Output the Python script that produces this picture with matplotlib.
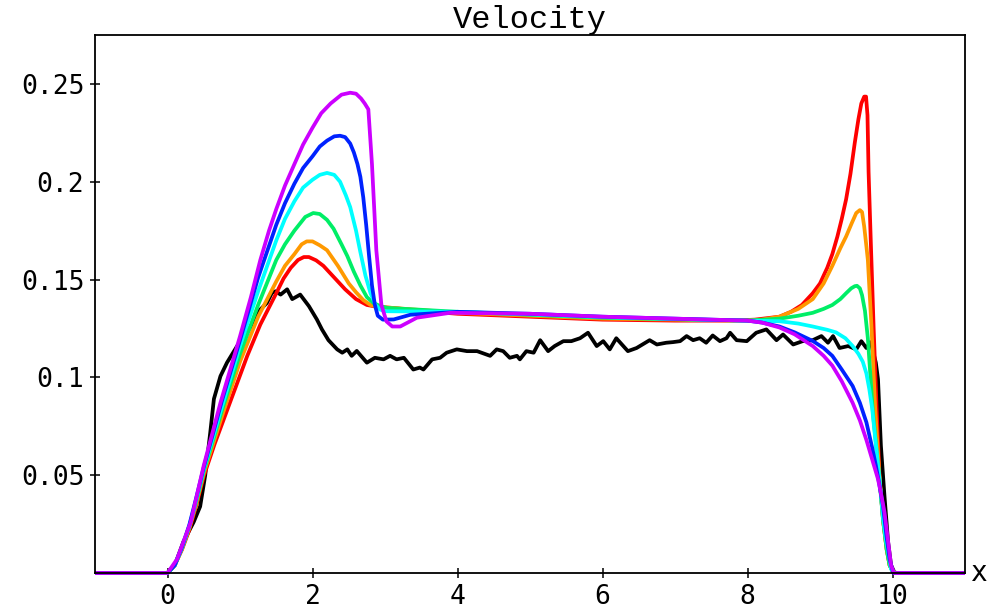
import matplotlib
matplotlib.use("Agg")
import matplotlib.pyplot as plt

# ---- data ----
X_TICKS = [0, 2, 4, 6, 8, 10]
X_TICK_LABELS = ["0", "2", "4", "6", "8", "10"]
Y_TICKS = [0.05, 0.10, 0.15, 0.20, 0.25]
Y_TICK_LABELS = ["0.05", "0.1", "0.15", "0.2", "0.25"]

black_x = [-1, 0, 0.1, 0.22, 0.36, 0.45, 0.52, 0.59, 0.64, 0.73, 0.82, 0.96, 1.1,
           1.28, 1.37, 1.44, 1.49, 1.56, 1.65, 1.72, 1.83, 1.95, 2.06, 2.13, 2.22,
           2.34, 2.41, 2.48, 2.54, 2.61, 2.75, 2.86, 2.98, 3.07, 3.16, 3.26, 3.39,
           3.48, 3.53, 3.65, 3.76, 3.85, 3.99, 4.13, 4.27, 4.45, 4.54, 4.63, 4.72,
           4.82, 4.86, 4.95, 5.05, 5.14, 5.25, 5.34, 5.46, 5.57, 5.69, 5.8, 5.92,
           6.01, 6.1, 6.19, 6.35, 6.47, 6.65, 6.75, 6.88, 6.97, 7.07, 7.16, 7.25,
           7.34, 7.43, 7.52, 7.62, 7.71, 7.76, 7.85, 7.99, 8.12, 8.26, 8.4, 8.49,
           8.63, 8.76, 8.9, 9.02, 9.11, 9.18, 9.27, 9.39, 9.5, 9.57, 9.64, 9.7,
           9.77, 9.8, 9.84, 9.89, 9.94, 9.98, 10.03, 11]
black_y = [0, 0, 0.004, 0.016, 0.026, 0.034, 0.05, 0.072, 0.089, 0.1006, 0.1075,
           0.116, 0.123, 0.1347, 0.138, 0.1432, 0.144, 0.1423, 0.145, 0.140, 0.1423,
           0.1364, 0.1296, 0.1245, 0.119, 0.1143, 0.1126, 0.1143, 0.111, 0.1135,
           0.1075, 0.110, 0.1092, 0.111, 0.1092, 0.110, 0.104, 0.105, 0.104, 0.1092,
           0.110, 0.1126, 0.1143, 0.1134, 0.1134, 0.111, 0.1143, 0.1134, 0.110,
           0.111, 0.1092, 0.1134, 0.1126, 0.119, 0.1134, 0.116, 0.1185, 0.1185,
           0.120, 0.1228, 0.116, 0.1185, 0.1143, 0.120, 0.1134, 0.115, 0.119,
           0.1168, 0.1177, 0.118, 0.1185, 0.1211, 0.119, 0.120, 0.1177, 0.1214,
           0.1185, 0.120, 0.1228, 0.119, 0.1185, 0.1228, 0.1245, 0.119, 0.1219,
           0.1168, 0.1185, 0.119, 0.1211, 0.1177, 0.1211, 0.115, 0.116, 0.1143,
           0.1185, 0.115, 0.118, 0.1075, 0.099, 0.065, 0.039, 0.0156, 0.004, 0, 0]

red_x = [-1, 0, 0.1, 0.2, 0.3, 0.4, 0.5, 0.65, 0.82, 1.0, 1.1, 1.28, 1.5, 1.6,
         1.7, 1.8, 1.88, 1.95, 2.05, 2.15, 2.3, 2.45, 2.6, 2.75, 2.9, 3.1, 3.5, 4,
         5, 6, 7, 7.8, 8.1, 8.44, 8.6, 8.75, 8.9, 9.0, 9.1, 9.17, 9.24, 9.3, 9.36,
         9.42, 9.48, 9.53, 9.57, 9.61, 9.635, 9.655, 9.67, 9.70, 9.74, 9.78, 9.82,
         9.87, 9.92, 9.96, 10.0, 10.05, 11]
red_y = [0, 0, 0.004, 0.012, 0.022, 0.035, 0.0495, 0.066, 0.083, 0.101, 0.111,
         0.127, 0.143, 0.1505, 0.156, 0.160, 0.1615, 0.1615, 0.1598, 0.157, 0.151,
         0.145, 0.140, 0.137, 0.136, 0.1355, 0.134, 0.1325, 0.131, 0.1295, 0.129,
         0.129, 0.1295, 0.131, 0.1335, 0.137, 0.143, 0.148, 0.156, 0.163, 0.172,
         0.181, 0.191, 0.204, 0.220, 0.232, 0.240, 0.2435, 0.2435, 0.234, 0.205,
         0.17, 0.125, 0.085, 0.05, 0.027, 0.012, 0.004, 0.001, 0, 0]

orange_x = [-1, 0, 0.1, 0.2, 0.3, 0.4, 0.5, 0.75, 1.0, 1.25, 1.5, 1.62, 1.75,
            1.85, 1.92, 2.0, 2.1, 2.2, 2.35, 2.5, 2.6, 2.7, 2.8, 2.9, 3.1, 4, 5, 6,
            7, 8, 8.2, 8.44, 8.7, 8.9, 9.05, 9.17, 9.28, 9.36, 9.44, 9.5, 9.55,
            9.58, 9.61, 9.64, 9.66, 9.71, 9.76, 9.82, 9.87, 9.92, 9.96, 10.0,
            10.05, 11]
orange_y = [0, 0, 0.004, 0.0125, 0.023, 0.036, 0.051, 0.080, 0.108, 0.131, 0.149,
            0.157, 0.163, 0.168, 0.1695, 0.1695, 0.1675, 0.165, 0.157, 0.148,
            0.1435, 0.1395, 0.137, 0.136, 0.1355, 0.133, 0.1315, 0.130, 0.1295,
            0.129, 0.1295, 0.131, 0.135, 0.140, 0.148, 0.157, 0.166, 0.172, 0.179,
            0.184, 0.1855, 0.1845, 0.177, 0.167, 0.160, 0.126, 0.085, 0.049, 0.027,
            0.012, 0.004, 0.001, 0, 0]

green_x = [-1, 0, 0.1, 0.2, 0.3, 0.4, 0.5, 0.75, 1.0, 1.25, 1.5, 1.62, 1.75, 1.9,
           2.01, 2.1, 2.2, 2.29, 2.4, 2.48, 2.57, 2.66, 2.75, 2.84, 2.93, 3.03, 4,
           5, 6, 7, 8, 8.44, 8.7, 8.9, 9.05, 9.17, 9.28, 9.36, 9.43, 9.48, 9.51,
           9.55, 9.58, 9.62, 9.66, 9.73, 9.82, 9.87, 9.92, 9.96, 10.0, 10.05, 11]
green_y = [0, 0, 0.004, 0.0128, 0.0235, 0.037, 0.052, 0.083, 0.112, 0.137, 0.160,
           0.168, 0.175, 0.182, 0.184, 0.1835, 0.1805, 0.176, 0.168, 0.162, 0.154,
           0.147, 0.141, 0.138, 0.1365, 0.1355, 0.1335, 0.132, 0.1305, 0.1297,
           0.129, 0.130, 0.1315, 0.133, 0.135, 0.137, 0.140, 0.143, 0.1455, 0.1466,
           0.1468, 0.1455, 0.142, 0.134, 0.120, 0.082, 0.048, 0.027, 0.012, 0.004,
           0.001, 0, 0]

cyan_x = [-1, 0, 0.1, 0.2, 0.3, 0.4, 0.5, 0.75, 1.0, 1.25, 1.5, 1.62, 1.75, 1.87,
          2.0, 2.1, 2.2, 2.3, 2.38, 2.46, 2.52, 2.56, 2.6, 2.66, 2.73, 2.8, 2.87,
          2.93, 3.0, 4, 5, 6, 7, 8, 8.44, 8.7, 8.9, 9.1, 9.22, 9.35, 9.45, 9.53,
          9.59, 9.64, 9.68, 9.72, 9.75, 9.82, 9.87, 9.91, 9.98, 10.03, 11]
cyan_y = [0, 0, 0.004, 0.013, 0.024, 0.038, 0.053, 0.085, 0.116, 0.144, 0.170,
          0.181, 0.190, 0.197, 0.201, 0.2035, 0.2045, 0.2035, 0.200, 0.193, 0.187,
          0.181, 0.175, 0.164, 0.152, 0.143, 0.137, 0.1347, 0.1338, 0.1335, 0.1322,
          0.1308, 0.1298, 0.129, 0.1287, 0.1275, 0.126, 0.1243, 0.123, 0.120,
          0.116, 0.112, 0.108, 0.102, 0.094, 0.084, 0.073, 0.048, 0.028, 0.017,
          0.002, 0, 0]

blue_x = [-1, 0, 0.1, 0.2, 0.3, 0.4, 0.5, 0.75, 1.0, 1.25, 1.5, 1.62, 1.75, 1.87,
          2.0, 2.1, 2.2, 2.3, 2.38, 2.45, 2.52, 2.57, 2.62, 2.66, 2.7, 2.74, 2.78,
          2.82, 2.86, 2.9, 2.97, 3.12, 3.35, 4, 5, 6, 7, 8, 8.2, 8.44, 8.65, 8.9,
          9.05, 9.17, 9.3, 9.45, 9.55, 9.64, 9.72, 9.77, 9.82, 9.87, 9.92, 9.96,
          10.01, 11]
blue_y = [0, 0, 0.004, 0.0133, 0.0245, 0.039, 0.054, 0.088, 0.119, 0.151, 0.178,
          0.189, 0.199, 0.207, 0.213, 0.218, 0.221, 0.2232, 0.2235, 0.2228, 0.2195,
          0.215, 0.209, 0.2025, 0.192, 0.178, 0.162, 0.147, 0.137, 0.1315, 0.1295,
          0.1296, 0.132, 0.1335, 0.1325, 0.131, 0.130, 0.129, 0.128, 0.126, 0.123,
          0.1186, 0.115, 0.111, 0.104, 0.0956, 0.087, 0.077, 0.064, 0.055, 0.045,
          0.034, 0.018, 0.007, 0, 0]

purple_x = [-1, 0, 0.13, 0.2, 0.32, 0.5, 0.73, 1.0, 1.15, 1.28, 1.4, 1.5, 1.62,
            1.75, 1.87, 2.0, 2.12, 2.25, 2.4, 2.52, 2.6, 2.67, 2.72, 2.77, 2.82,
            2.88, 2.95, 3.02, 3.1, 3.21, 3.44, 3.9, 5, 6, 7, 8, 8.2, 8.44, 8.65,
            8.9, 9.05, 9.17, 9.3, 9.45, 9.55, 9.64, 9.72, 9.8, 9.85, 9.89, 9.94,
            9.98, 10.02, 11]
purple_y = [0, 0, 0.007, 0.014, 0.026, 0.055, 0.087, 0.121, 0.141, 0.160, 0.175,
            0.186, 0.198, 0.209, 0.219, 0.2276, 0.235, 0.240, 0.2445, 0.2455,
            0.245, 0.2425, 0.240, 0.237, 0.209, 0.165, 0.137, 0.1286, 0.126, 0.126,
            0.1305, 0.133, 0.1325, 0.131, 0.130, 0.129, 0.128, 0.1255, 0.122,
            0.116, 0.111, 0.106, 0.098, 0.087, 0.078, 0.068, 0.058, 0.048, 0.039,
            0.031, 0.016, 0.004, 0, 0]

SERIES = [
    (black_x, black_y, "black"),
    (red_x, red_y, "#ff0000"),
    (orange_x, orange_y, "#ff9900"),
    (green_x, green_y, "#00ee66"),
    (cyan_x, cyan_y, "#00ffff"),
    (blue_x, blue_y, "#0022ff"),
    (purple_x, purple_y, "#cc00ff"),
]

fig = plt.figure(figsize=(9.93, 6.14), dpi=100)
ax = fig.add_axes([0.0957, 0.0668, 0.8761, 0.8762])

for xs, ys, color in SERIES:
    ax.plot(xs, ys, color=color, lw=2.7, solid_capstyle="butt",
            solid_joinstyle="round", clip_on=False)

ax.set_xlim(-1, 11)
ax.set_ylim(0, 0.275)
ax.set_xticks(X_TICKS)
ax.set_xticklabels(X_TICK_LABELS)
ax.set_yticks(Y_TICKS)
ax.set_yticklabels(Y_TICK_LABELS)

for spine in ax.spines.values():
    spine.set_linewidth(1.3)
ax.tick_params(direction="inout", length=7.5, width=1.1, pad=4,
               labelsize=19, top=False, right=False)
for lab in ax.get_xticklabels() + ax.get_yticklabels():
    lab.set_family("DejaVu Sans Mono")

ax.set_title("Velocity", family="Liberation Mono", fontsize=23, pad=3)
ax.annotate("x", xy=(1.0, 0.0), xycoords="axes fraction", xytext=(4, 0),
            textcoords="offset points", ha="left", va="center",
            family="DejaVu Sans Mono", fontsize=20)

fig.savefig("out.png", dpi=100)
